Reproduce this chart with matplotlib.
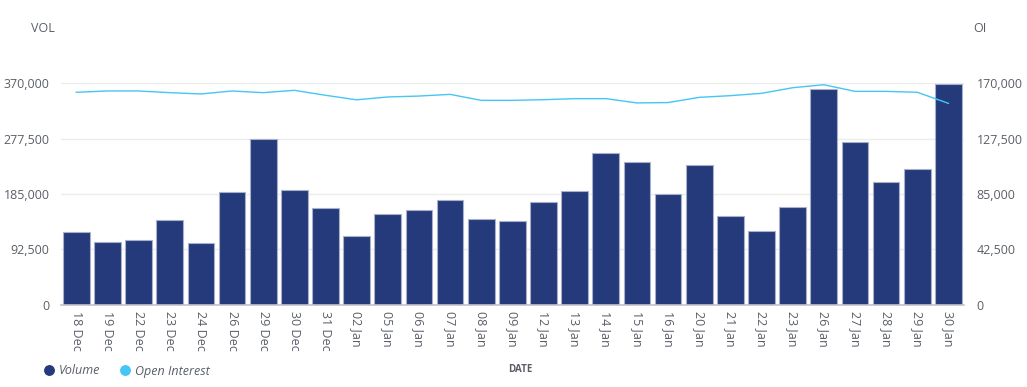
import matplotlib
matplotlib.use("Agg")
import matplotlib.pyplot as plt
from matplotlib.lines import Line2D
from matplotlib.ticker import FuncFormatter

plt.rcParams['font.family'] = ['Open Sans', 'DejaVu Sans']

dates = ["18 Dec", "19 Dec", "22 Dec", "23 Dec", "24 Dec", "26 Dec", "29 Dec", "30 Dec",
         "31 Dec", "02 Jan", "05 Jan", "06 Jan", "07 Jan", "08 Jan", "09 Jan", "12 Jan",
         "13 Jan", "14 Jan", "15 Jan", "16 Jan", "20 Jan", "21 Jan", "22 Jan", "23 Jan",
         "26 Jan", "27 Jan", "28 Jan", "29 Jan", "30 Jan"]
volume = [121000, 104000, 108600, 141600, 103000, 189000, 277300, 191300,
          161700, 114800, 151000, 157800, 175000, 143300, 139400, 171800,
          189700, 253900, 238800, 184700, 232600, 148300, 123200, 162900,
          361000, 272300, 205300, 226500, 369000]
open_interest = [163100, 164100, 164100, 162800, 161800, 164100, 162800, 164600,
                 160800, 157300, 159500, 160200, 161500, 156900, 156900, 157400,
                 158200, 158200, 154900, 155200, 159200, 160500, 162300, 166600,
                 168900, 163800, 163800, 163100, 154600]
vol_ticks = [0, 92500, 185000, 277500, 370000]
oi_ticks = [0, 42500, 85000, 127500, 170000]

BAR = "#243a7a"
LINE = "#45c6f4"
TXT = "#5a5f66"

fig = plt.figure(figsize=(10.27, 3.87), dpi=100)
ax = fig.add_axes([60.7/1027, 1-304.5/387, (964-60.7)/1027, (304.5-83.3)/387])
x = list(range(len(dates)))
ax.bar(x, volume, width=0.857, color=BAR, edgecolor="#a9b0cc", linewidth=0.8, zorder=2)
ax.set_xlim(-0.5, len(dates) - 0.5)
ax.set_ylim(0, 370000)
ax.set_yticks(vol_ticks)
ax.yaxis.set_major_formatter(FuncFormatter(lambda v, p: f"{int(v):,}"))
ax.grid(axis='y', color="#ececec", linewidth=1, zorder=0)
ax.set_axisbelow(True)
for s in ['top', 'right', 'left']:
    ax.spines[s].set_visible(False)
ax.spines['bottom'].set_color("#c3c3c8")
ax.spines['bottom'].set_linewidth(1.2)
ax.set_xticks(x)
ax.set_xticklabels(dates, rotation=-90, fontsize=9, color=TXT)
ax.tick_params(axis='x', length=0, pad=5)
ax.tick_params(axis='y', length=0, pad=8, labelsize=9, labelcolor=TXT)

ax2 = ax.twinx()
ax2.plot(x, open_interest, color=LINE, linewidth=1.0, zorder=3)
ax2.set_ylim(0, 170000)
ax2.set_yticks(oi_ticks)
ax2.yaxis.set_major_formatter(FuncFormatter(lambda v, p: f"{int(v):,}"))
for s in ['top', 'right', 'left', 'bottom']:
    ax2.spines[s].set_visible(False)
ax2.tick_params(axis='y', length=0, pad=9, labelsize=9, labelcolor=TXT)

fig.text(55/1027, 1-28/387, "VOL", ha='right', va='center', fontsize=9, color=TXT)
fig.text(973/1027, 1-28/387, "OI", ha='left', va='center', fontsize=9, color=TXT)
fig.text(520/1027, 1-370/387, "DATE", ha='center', va='center', fontsize=7,
         fontweight='bold', color=TXT)

handles = [Line2D([], [], marker='o', linestyle='none', markersize=6.8, color=BAR),
           Line2D([], [], marker='o', linestyle='none', markersize=6.8, color=LINE)]
leg = fig.legend(handles, ["Volume", "Open Interest"], loc='center left',
                 bbox_to_anchor=(44.5/1027, 1-371/387), ncol=2, frameon=False,
                 borderpad=0, borderaxespad=0,
                 handletextpad=0.4, columnspacing=1.6, handlelength=0.75,
                 prop={'size': 9, 'style': 'italic'})
for t in leg.get_texts():
    t.set_color(TXT)

fig.savefig("out.png", dpi=100)
